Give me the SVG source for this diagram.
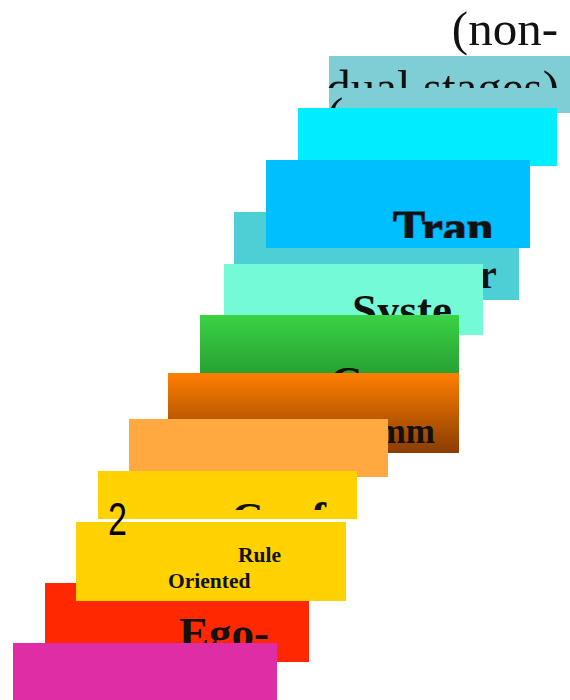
<svg xmlns="http://www.w3.org/2000/svg" width="570" height="700" viewBox="0 0 570 700">
<style>
.ser{font-family:"Liberation Serif",serif;fill:#111}
.b{font-weight:bold}
.big{font-size:45px}
</style>
<defs>
<linearGradient id="gGreen" x1="0" y1="0" x2="0" y2="1"><stop offset="0" stop-color="#3BD245"/><stop offset="1" stop-color="#259B30"/></linearGradient>
<linearGradient id="gOrange" x1="0" y1="0" x2="0" y2="1"><stop offset="0" stop-color="#FF8000"/><stop offset="1" stop-color="#8A3C00"/></linearGradient>
<clipPath id="cA"><rect x="0" y="0" width="570" height="88"/></clipPath>
<clipPath id="cP"><rect x="300" y="95" width="60" height="13"/></clipPath>
<clipPath id="cC"><rect x="0" y="0" width="570" height="238"/></clipPath>
<clipPath id="cI"><rect x="0" y="0" width="570" height="510"/></clipPath>
</defs>
<rect width="570" height="700" fill="#fff"/>
<g id="connectors"/>
<g id="stage-top">
<rect x="329" y="56" width="241" height="57" fill="#7FCED6"/>
<text class="ser" x="558" y="45" font-size="49" text-anchor="end">(non-</text>
<text class="ser" x="559" y="104" font-size="49" text-anchor="end" clip-path="url(#cA)">dual stages)</text>
<text class="ser" x="327" y="131" font-size="49" clip-path="url(#cP)">(</text>
</g>
<g id="stage-cyan">
<rect x="298" y="108" width="259" height="58" fill="#00EEFF"/>
</g>
<g id="stage-teal">
<rect x="234" y="212" width="285" height="88" fill="#4ECFD6"/>
<text class="ser b" x="479" y="288" font-size="40">r</text>
</g>
<g id="stage-blue">
<rect x="266" y="160" width="264" height="88" fill="#00BFFF"/>
<text class="ser b" x="393" y="244" font-size="48" stroke="#1F4E79" stroke-width="1.5" paint-order="stroke" clip-path="url(#cC)">Tran</text>
</g>
<g id="stage-aqua">
<rect x="224" y="264" width="259" height="71" fill="#74FBD6"/>
<text class="ser b big" x="352" y="325">Syste</text>
</g>
<g id="stage-green">
<rect x="200" y="315" width="259" height="66" fill="url(#gGreen)"/>
<text class="ser b big" x="330" y="397">C</text>
</g>
<g id="stage-orange">
<rect x="168" y="373" width="291" height="80" fill="url(#gOrange)"/>
<text class="ser b" x="435" y="443" font-size="35" text-anchor="end">mm</text>
</g>
<g id="stage-lightorange">
<rect x="129" y="419" width="259" height="58" fill="#FFA940"/>
</g>
<g id="stage-yellow1">
<rect x="98" y="471" width="259" height="48" fill="#FFD200"/>
<text class="ser b big" x="231" y="533" clip-path="url(#cI)">Conf</text>
</g>
<g id="stage-red">
<rect x="45" y="583" width="264" height="79" fill="#FF2800"/>
<text class="ser b big" x="179" y="648">Ego-</text>
</g>
<g id="stage-yellow2">
<rect x="76" y="522" width="270" height="79" fill="#FFD200"/>
<text class="ser b" x="238" y="562" font-size="21.5">Rule</text>
<text class="ser b" x="168" y="588" font-size="21.5">Oriented</text>
</g>
<g id="stage-magenta">
<rect x="13" y="643" width="264" height="57" fill="#DF2DA5"/>
</g>
<g id="stage-number">
<text x="0" y="535" font-family="Liberation Sans, sans-serif" font-size="46" fill="#000" transform="translate(108 0) scale(0.74 1)">2</text>
</g>
</svg>
